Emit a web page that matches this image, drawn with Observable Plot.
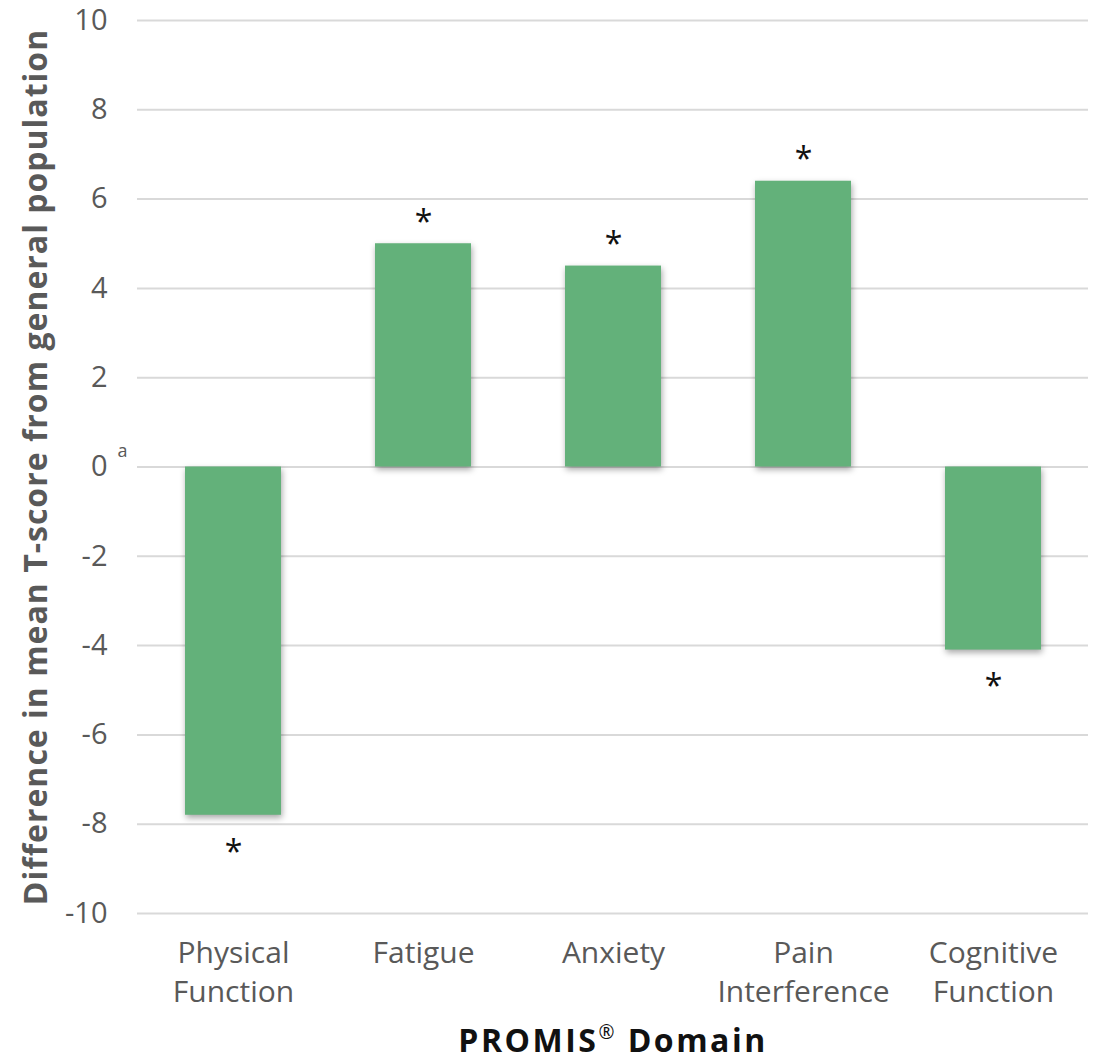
<!DOCTYPE html>
<html>
<head>
<meta charset="utf-8">
<script src="https://cdn.jsdelivr.net/npm/d3@7"></script>
<script src="https://cdn.jsdelivr.net/npm/@observablehq/plot@0.6"></script>
<style>
  html, body { margin: 0; padding: 0; background: #fff; }
</style>
</head>
<body>
<div id="chart"></div>
<script>
const categories = ["Physical Function", "Fatigue", "Anxiety", "Pain Interference", "Cognitive Function"];
const values = [-7.8, 5.0, 4.5, 6.4, -4.1];
const significant = [true, true, true, true, true];
const yTicks = [-10, -8, -6, -4, -2, 0, 2, 4, 6, 8, 10];
const yTitle = "Difference in mean T-score from general population";
const xTitle = "PROMIS® Domain";
const zeroNote = "a";

const data = categories.map((c, i) => ({category: c, value: values[i], sig: significant[i]}));

const plot = Plot.plot({
  width: 1104,
  height: 1059,
  marginLeft: 137,
  marginRight: 16,
  marginTop: 20,
  marginBottom: 146,
  style: {fontFamily: "'Open Sans', Lato, sans-serif", background: "white"},
  x: {domain: categories, paddingInner: 0.495, paddingOuter: 0.2475, label: null},
  y: {domain: [-10, 10], label: null},
  marks: [
    Plot.gridY(yTicks, {stroke: "#d9d9d9", strokeOpacity: 1, strokeWidth: 2}),
    Plot.barY(data, {x: "category", y: "value", fill: "#63b17a"}),
    Plot.text(data.filter(d => d.sig && d.value > 0), {x: "category", y: "value", text: () => "*", dy: -21, fontSize: 32, fill: "#111"}),
    Plot.text(data.filter(d => d.sig && d.value < 0), {x: "category", y: "value", text: () => "*", dy: 37, fontSize: 32, fill: "#111"}),
    Plot.axisY(yTicks, {tickSize: 0, tickPadding: 30, tickFormat: d => String(d), fontSize: 29, color: "#595959", label: null}),
    Plot.axisX({tickSize: 0, tickPadding: 22, tickFormat: d => d.replace(" ", "\n"), fontSize: 30, color: "#595959", lineHeight: 1.3, label: null}),
    Plot.text([0], {y: d => d, text: () => zeroNote, frameAnchor: "left", dx: -20, dy: -16, fontSize: 18, fill: "#595959"}),
    Plot.text([yTitle], {frameAnchor: "left", textAnchor: "middle", rotate: -90, dx: -101, fontSize: 32, fontWeight: "bold", fill: "#595959"}),
    Plot.text([xTitle], {frameAnchor: "bottom", dy: 138, fontSize: 32, fontWeight: "bold", fill: "#111"})
  ]
});

const svg = d3.select(plot);
svg.selectAll('g[aria-label="bar"]').style("filter", "drop-shadow(1px 3px 3px rgba(0,0,0,0.35))");
svg.selectAll("text").filter(function() { return this.textContent === yTitle; })
  .style("letter-spacing", "1px");
svg.selectAll("text").filter(function() { return this.textContent === xTitle; })
  .style("letter-spacing", "2.5px")
  .html('PROMIS<tspan font-size="0.6em" font-weight="normal" baseline-shift="super">®</tspan> Domain');

document.getElementById("chart").appendChild(plot);
</script>
</body>
</html>
